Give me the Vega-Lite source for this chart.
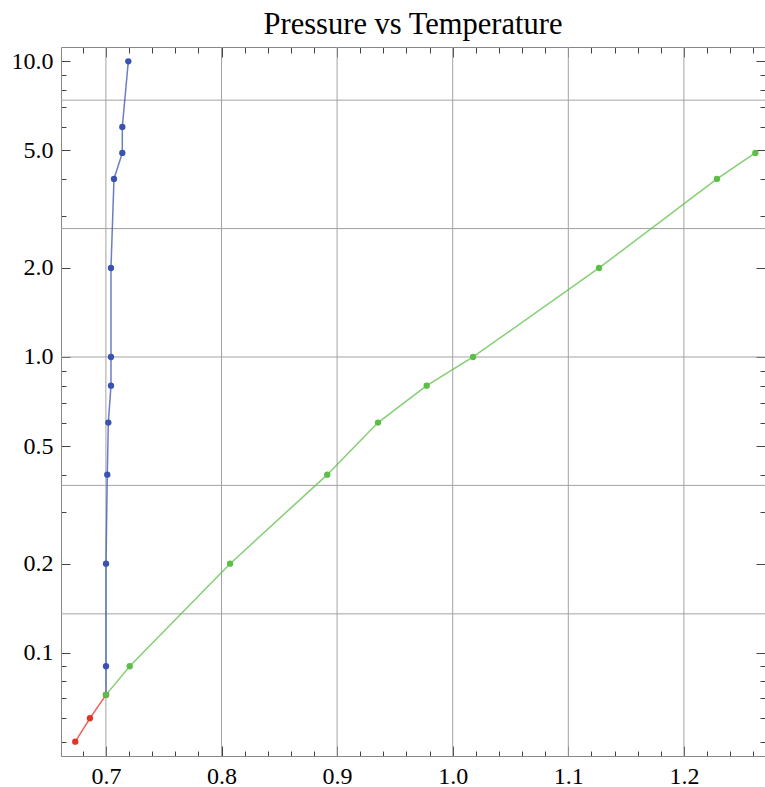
{
  "$schema": "https://vega.github.io/schema/vega-lite/v6.json",
  "autosize": "none",
  "width": 704,
  "height": 709,
  "padding": {"left": 61, "top": 47, "right": 0, "bottom": 31},
  "background": "white",
  "config": {"view": {"stroke": null}},
  "title": {"text": "Pressure vs Temperature", "font": "Liberation Serif", "fontSize": 30.5, "fontWeight": "normal", "color": "black", "anchor": "middle", "baseline": "alphabetic", "offset": -18},
  "datasets": {
    "gridY": [{"g": 0.1353}, {"g": 0.3679}, {"g": 1}, {"g": 2.7183}, {"g": 7.3891}],
    "gridX": [{"gx": 0.7}, {"gx": 0.8}, {"gx": 0.9}, {"gx": 1.0}, {"gx": 1.1}, {"gx": 1.2}],
    "pts": [
      {"s": "blue", "T": 0.7001, "P": 0.072},
      {"s": "blue", "T": 0.7001, "P": 0.09},
      {"s": "blue", "T": 0.7001, "P": 0.2},
      {"s": "blue", "T": 0.7012, "P": 0.4},
      {"s": "blue", "T": 0.7021, "P": 0.6},
      {"s": "blue", "T": 0.7044, "P": 0.8},
      {"s": "blue", "T": 0.7044, "P": 1.0},
      {"s": "blue", "T": 0.7044, "P": 2.0},
      {"s": "blue", "T": 0.707, "P": 4.0},
      {"s": "blue", "T": 0.7142, "P": 4.9},
      {"s": "blue", "T": 0.7142, "P": 6.0},
      {"s": "blue", "T": 0.7194, "P": 10.0},
      {"s": "red", "T": 0.6735, "P": 0.05},
      {"s": "red", "T": 0.6862, "P": 0.06},
      {"s": "red", "T": 0.7001, "P": 0.072},
      {"s": "green", "T": 0.7001, "P": 0.072},
      {"s": "green", "T": 0.7206, "P": 0.09},
      {"s": "green", "T": 0.8074, "P": 0.2},
      {"s": "green", "T": 0.8915, "P": 0.4},
      {"s": "green", "T": 0.9354, "P": 0.6},
      {"s": "green", "T": 0.9775, "P": 0.8},
      {"s": "green", "T": 1.0176, "P": 1.0},
      {"s": "green", "T": 1.1266, "P": 2.0},
      {"s": "green", "T": 1.2286, "P": 4.0},
      {"s": "green", "T": 1.2618, "P": 4.9}
    ]
  },
  "resolve": {"axis": {"x": "independent", "y": "independent"}},
  "layer": [
    {
      "data": {"name": "gridY"},
      "mark": {"type": "rule", "color": "#a3a3a3", "strokeWidth": 1},
      "encoding": {
        "y": {"field": "g", "type": "quantitative",
          "scale": {"type": "log", "domain": [0.04473, 11.177], "nice": false},
          "axis": {
            "orient": "left",
            "values": [0.05,0.06,0.07,0.08,0.09,0.1,0.2,0.3,0.4,0.5,0.6,0.7,0.8,0.9,1,2,3,4,5,6,7,8,9,10],
            "labelExpr": "indexof([0.1,0.2,0.5,1,2,5,10], datum.value) >= 0 ? format(datum.value, '.1f') : ''",
            "tickSize": {"condition": {"test": "indexof([0.1,0.2,0.5,1,2,5,10], datum.value) >= 0", "value": -9}, "value": -5},
            "labelPadding": 17,
            "labelFont": "Liberation Serif", "labelFontSize": 24, "labelColor": "black",
            "labelFlush": false, "labelOverlap": false, "labelBound": false,
            "tickColor": "#444", "tickWidth": 1,
            "domainColor": "#888", "domainWidth": 1,
            "grid": false, "title": null
          }
        }
      }
    },
    {
      "data": {"name": "gridX"},
      "mark": {"type": "rule", "color": "#a3a3a3", "strokeWidth": 1},
      "encoding": {
        "x": {"field": "gx", "type": "quantitative",
          "scale": {"domain": [0.66116, 1.27015], "nice": false, "zero": false},
          "axis": {
            "orient": "bottom",
            "values": [0.66,0.68,0.7,0.72,0.74,0.76,0.78,0.8,0.82,0.84,0.86,0.88,0.9,0.92,0.94,0.96,0.98,1.0,1.02,1.04,1.06,1.08,1.1,1.12,1.14,1.16,1.18,1.2,1.22,1.24,1.26],
            "labelExpr": "abs(datum.value*10 - round(datum.value*10)) < 0.000001 ? format(datum.value, '.1f') : ''",
            "tickSize": {"condition": {"test": "abs(datum.value*10 - round(datum.value*10)) < 0.000001", "value": -10}, "value": -5},
            "labelPadding": 18,
            "labelFont": "Liberation Serif", "labelFontSize": 24, "labelColor": "black",
            "labelFlush": false, "labelOverlap": false, "labelBound": false,
            "tickColor": "#444", "tickWidth": 1,
            "domainColor": "#888", "domainWidth": 1,
            "grid": false, "title": null
          }
        }
      }
    },
    {
      "data": {"name": "pts"},
      "mark": {"type": "line", "strokeWidth": 1.5, "opacity": 0.75},
      "encoding": {
        "x": {"field": "T", "type": "quantitative",
          "scale": {"domain": [0.66116, 1.27015], "nice": false, "zero": false},
          "axis": {
            "orient": "top",
            "values": [0.66,0.68,0.7,0.72,0.74,0.76,0.78,0.8,0.82,0.84,0.86,0.88,0.9,0.92,0.94,0.96,0.98,1.0,1.02,1.04,1.06,1.08,1.1,1.12,1.14,1.16,1.18,1.2,1.22,1.24,1.26],
            "labels": false,
            "tickSize": {"condition": {"test": "abs(datum.value*10 - round(datum.value*10)) < 0.000001", "value": -10}, "value": -6},
            "tickColor": "#444", "tickWidth": 1,
            "domainColor": "#888", "domainWidth": 1,
            "grid": false, "title": null
          }
        },
        "y": {"field": "P", "type": "quantitative",
          "scale": {"type": "log", "domain": [0.04473, 11.177], "nice": false},
          "axis": {
            "orient": "right",
            "values": [0.05,0.06,0.07,0.08,0.09,0.1,0.2,0.3,0.4,0.5,0.6,0.7,0.8,0.9,1,2,3,4,5,6,7,8,9,10],
            "labels": false,
            "tickSize": {"condition": {"test": "indexof([0.1,0.2,0.5,1,2,5,10], datum.value) >= 0", "value": -9}, "value": -5},
            "tickColor": "#444", "tickWidth": 1,
            "domainColor": "#888", "domainWidth": 1,
            "grid": false, "title": null
          }
        },
        "color": {"field": "s", "type": "nominal",
          "scale": {"domain": ["blue", "red", "green"], "range": ["#3a53b0", "#e63226", "#5bbf45"]},
          "legend": null},
        "order": {"field": "T", "type": "quantitative"}
      }
    },
    {
      "data": {"name": "pts"},
      "mark": {"type": "point", "filled": true, "size": 40, "opacity": 1},
      "encoding": {
        "x": {"field": "T", "type": "quantitative", "axis": null},
        "y": {"field": "P", "type": "quantitative", "axis": null},
        "color": {"field": "s", "type": "nominal", "legend": null}
      }
    }
  ]
}
